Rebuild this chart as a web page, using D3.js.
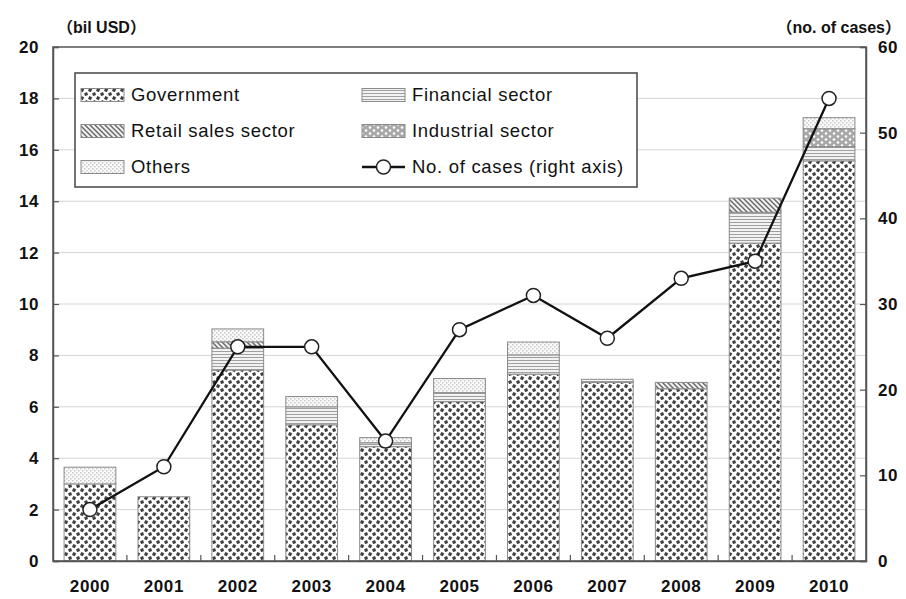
<!DOCTYPE html>
<html><head><meta charset="utf-8">
<script src="https://cdn.jsdelivr.net/npm/d3@7"></script>
<style>
body{margin:0;background:#fff;}
svg text{font-family:"Liberation Sans","Noto Sans CJK JP",sans-serif;fill:#111;}
</style></head>
<body><svg id="c" width="906" height="599"></svg>
<script>
const years = ["2000","2001","2002","2003","2004","2005","2006","2007","2008","2009","2010"];
const government = [3.0, 2.5, 7.43, 5.3, 4.45, 6.2, 7.27, 6.95, 6.7, 12.37, 15.57];
const financial  = [0, 0, 0.85, 0.7, 0.15, 0.35, 0.75, 0.12, 0, 1.2, 0.55];
const retail     = [0, 0, 0.25, 0, 0, 0, 0, 0, 0.25, 0.55, 0];
const industrial = [0, 0, 0, 0, 0, 0, 0, 0, 0, 0, 0.7];
const others     = [0.65, 0, 0.5, 0.4, 0.2, 0.55, 0.5, 0, 0, 0, 0.43];
const cases      = [6, 11, 25, 25, 14, 27, 31, 26, 33, 35, 54];
const leftTicks  = [0,2,4,6,8,10,12,14,16,18,20];
const rightTicks = [0,10,20,30,40,50,60];
const seriesNames = ["Government","Financial sector","Retail sales sector","Industrial sector","Others"];
const lineName = "No. of cases (right axis)";

const svg = d3.select("#c");
const M = {l:53, r:40, t:47, b:38};
const W = 906, H = 599;
const iw = W - M.l - M.r, ih = H - M.t - M.b;

// patterns
const defs = svg.append("defs");
function pat(id, w, h, build){ const p = defs.append("pattern").attr("id",id).attr("patternUnits","userSpaceOnUse").attr("width",w).attr("height",h); build(p); }
pat("pGov", 8, 8, p=>{
  p.append("rect").attr("width",8).attr("height",8).attr("fill","#fff");
  p.append("rect").attr("x",0.5).attr("y",0.5).attr("width",3.2).attr("height",3.2).attr("fill","#404040").attr("transform","rotate(25 2.1 2.1)");
  p.append("rect").attr("x",4.5).attr("y",4.5).attr("width",3.2).attr("height",3.2).attr("fill","#404040").attr("transform","rotate(-20 6.1 6.1)");
});
pat("pFin", 6, 3, p=>{
  p.append("rect").attr("width",6).attr("height",3).attr("fill","#f2f2f2");
  p.append("rect").attr("y",0).attr("width",6).attr("height",1).attr("fill","#a0a0a0");
});
pat("pRet", 5, 5, p=>{
  p.append("rect").attr("width",5).attr("height",5).attr("fill","#f0f0f0");
  p.append("path").attr("d","M-1,-1 L6,6 M-1,4 L1,6 M4,-1 L6,1").attr("stroke","#666").attr("stroke-width",1.4);
});
pat("pInd", 8, 6, p=>{
  p.append("rect").attr("width",8).attr("height",6).attr("fill","#a8a8a8");
  p.append("circle").attr("cx",2).attr("cy",1.5).attr("r",1.3).attr("fill","#fff");
  p.append("circle").attr("cx",6).attr("cy",4.5).attr("r",1.3).attr("fill","#fff");
});
pat("pOth", 4, 4, p=>{
  p.append("rect").attr("width",4).attr("height",4).attr("fill","#fafafa");
  p.append("rect").attr("x",0).attr("y",0).attr("width",1.5).attr("height",1.5).attr("fill","#c8c8c8");
  p.append("rect").attr("x",2).attr("y",2).attr("width",1.5).attr("height",1.5).attr("fill","#c8c8c8");
});
const fills = ["url(#pGov)","url(#pFin)","url(#pRet)","url(#pInd)","url(#pOth)"];

const x = d3.scaleBand().domain(years).range([M.l, M.l+iw]).paddingInner(0.3).paddingOuter(0.15);
const y = d3.scaleLinear().domain([0,20]).range([M.t+ih, M.t]);
const y2 = d3.scaleLinear().domain([0,60]).range([M.t+ih, M.t]);

// gridlines
svg.append("g").selectAll("line").data(leftTicks.filter(d=>d>0 && d<20)).join("line")
  .attr("x1",M.l).attr("x2",M.l+iw).attr("y1",d=>y(d)).attr("y2",d=>y(d))
  .attr("stroke","#d4d4d4").attr("stroke-width",1);

// stacked bars
const table = years.map((yr,i)=>({year:yr, s0:government[i], s1:financial[i], s2:retail[i], s3:industrial[i], s4:others[i]}));
const stack = d3.stack().keys(["s0","s1","s2","s3","s4"])(table);
svg.append("g").selectAll("g").data(stack).join("g")
  .attr("fill",(d,i)=>fills[i])
  .selectAll("rect").data(d=>d.filter(e=>e[1]-e[0]>0)).join("rect")
  .attr("x",d=>x(d.data.year)).attr("width",x.bandwidth())
  .attr("y",d=>y(d[1])).attr("height",d=>y(d[0])-y(d[1]))
  .attr("stroke","#8a8a8a").attr("stroke-width",1);

// plot frame
svg.append("rect").attr("x",M.l).attr("y",M.t).attr("width",iw).attr("height",ih)
  .attr("fill","none").attr("stroke","#555").attr("stroke-width",1.5);

// axes
const axL = d3.axisLeft(y).tickValues(leftTicks).tickSize(-6).tickPadding(14);
const gL = svg.append("g").attr("transform",`translate(${M.l},0)`).call(axL);
const axR = d3.axisRight(y2).tickValues(rightTicks).tickSize(-6).tickPadding(12);
const gR = svg.append("g").attr("transform",`translate(${M.l+iw},0)`).call(axR);
const axB = d3.axisBottom(x).tickSize(0).tickPadding(19);
const gB = svg.append("g").attr("transform",`translate(0,${M.t+ih})`).call(axB);
[gL,gR,gB].forEach(g=>{
  g.select(".domain").attr("stroke","#555").attr("stroke-width",1.5);
  g.selectAll(".tick line").attr("stroke","#555").attr("stroke-width",1.2);
  g.selectAll("text").attr("font-size",17).attr("font-weight","bold").attr("fill","#111")
   .attr("letter-spacing",0.6)
   .style("font-family","'Liberation Sans',sans-serif");
});
// category boundary ticks
const step = x.step();
svg.append("g").selectAll("line").data(d3.range(1,years.length)).join("line")
  .attr("x1",d=>M.l+d*step).attr("x2",d=>M.l+d*step)
  .attr("y1",M.t+ih).attr("y2",M.t+ih-6).attr("stroke","#555").attr("stroke-width",1.2);

// axis titles
svg.append("text").attr("x",57).attr("y",33).attr("font-size",16).attr("font-weight","bold").text("（bil USD）");
svg.append("text").attr("x",901).attr("y",33).attr("text-anchor","end").attr("font-size",16).attr("font-weight","bold").text("（no. of cases）");

// line
const line = d3.line().x((d,i)=>x(years[i])+x.bandwidth()/2).y(d=>y2(d));
svg.append("path").datum(cases).attr("d",line).attr("fill","none").attr("stroke","#111").attr("stroke-width",2.3);
svg.append("g").selectAll("circle").data(cases).join("circle")
  .attr("cx",(d,i)=>x(years[i])+x.bandwidth()/2).attr("cy",d=>y2(d)).attr("r",7)
  .attr("fill","#fff").attr("stroke","#222").attr("stroke-width",1.5);

// legend
const lg = svg.append("g");
lg.append("rect").attr("x",75).attr("y",73).attr("width",562).attr("height",114)
  .attr("fill","#fff").attr("stroke","#444").attr("stroke-width",1.5);
const legItems = [
  {name:seriesNames[0], fill:fills[0], col:0, row:0},
  {name:seriesNames[1], fill:fills[1], col:1, row:0},
  {name:seriesNames[2], fill:fills[2], col:0, row:1},
  {name:seriesNames[3], fill:fills[3], col:1, row:1},
  {name:seriesNames[4], fill:fills[4], col:0, row:2},
  {name:lineName, line:true, col:1, row:2}
];
const colX = [81, 362], rowY = [95, 131, 167];
legItems.forEach(it=>{
  const gx = colX[it.col], gy = rowY[it.row];
  if(it.line){
    lg.append("line").attr("x1",gx).attr("x2",gx+43).attr("y1",gy).attr("y2",gy).attr("stroke","#111").attr("stroke-width",2.3);
    lg.append("circle").attr("cx",gx+21.5).attr("cy",gy).attr("r",7).attr("fill","#fff").attr("stroke","#222").attr("stroke-width",1.5);
  } else {
    lg.append("rect").attr("x",gx).attr("y",gy-6.5).attr("width",43).attr("height",13).attr("fill",it.fill).attr("stroke","#8a8a8a").attr("stroke-width",1);
  }
  lg.append("text").attr("x",gx+50).attr("y",gy).attr("dy","0.35em").attr("font-size",18.5).attr("letter-spacing",0.7).text(it.name);
});
</script></body></html>
